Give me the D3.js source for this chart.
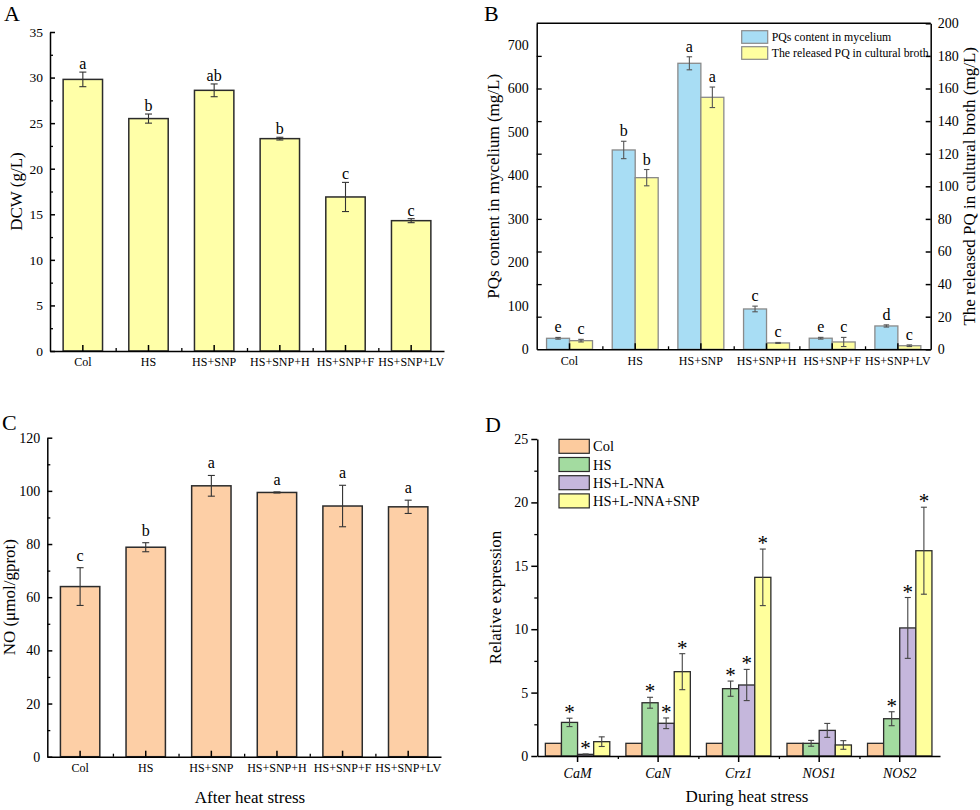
<!DOCTYPE html>
<html><head><meta charset="utf-8">
<script src="https://cdn.jsdelivr.net/npm/d3@7"></script>
<style>body{margin:0;background:#fff} svg{display:block}</style>
</head><body><svg id="c" width="980" height="810"></svg>
<script>
// ---------- DATA ----------
const treatments = ["Col","HS","HS+SNP","HS+SNP+H","HS+SNP+F","HS+SNP+LV"];
const dcwValues = [29.8, 25.5, 28.6, 23.3, 16.9, 14.3];
const dcwErrors = [0.8, 0.5, 0.7, 0.15, 1.6, 0.22];
const dcwLetters = ["a","b","ab","b","c","c"];
const pqMycelium = [25.3, 458.6, 658, 92.8, 25.5, 53.7];
const pqMyceliumErr = [2, 20, 15, 6.5, 2, 2.5];
const pqMyceliumLetters = ["e","b","a","c","e","d"];
const pqBroth = [5.3, 105.3, 154.6, 3.9, 4.5, 2.2];
const pqBrothErr = [0.8, 5, 6.3, 0.3, 2.8, 0.5];
const pqBrothLetters = ["c","b","a","c","c","c"];
const noValues = [64.0, 78.8, 101.9, 99.4, 94.3, 94.0];
const noErrors = [7.1, 1.7, 3.9, 0.2, 7.8, 2.5];
const noLetters = ["c","b","a","a","a","a"];
const genes = ["CaM","CaN","Crz1","NOS1","NOS2"];
const groupsD = ["Col","HS","HS+L-NNA","HS+L-NNA+SNP"];
const exprCol = [1, 1, 1, 1, 1];
const exprHS = [2.65, 4.2, 5.31, 1.0, 2.94];
const exprLNNA = [0.13, 2.58, 5.6, 2.02, 10.1];
const exprSNP = [1.13, 6.65, 14.09, 0.87, 16.19];
const errCol = [0, 0, 0, 0, 0];
const errHS = [0.33, 0.43, 0.6, 0.23, 0.55];
const errLNNA = [0.03, 0.42, 1.23, 0.55, 2.4];
const errSNP = [0.38, 1.42, 2.23, 0.34, 3.43];
const sigCol = [false, false, false, false, false];
const sigHS = [true, true, true, false, true];
const sigLNNA = [true, true, true, false, true];
const sigSNP = [false, true, true, false, true];

// ---------- HELPERS ----------
const serif = '"Liberation Serif","Times New Roman",serif';
const svg = d3.select("#c");
svg.append("rect").attr("width",980).attr("height",810).attr("fill","#fff");

function styleAxis(g, fs, sw){
  g.attr("font-family", serif).attr("font-size", fs);
  g.selectAll("path,line").attr("stroke","#000").attr("stroke-width", sw);
  g.selectAll("text").attr("fill","#000");
  return g;
}
function minorAxis(g, axis){ g.call(axis); g.select(".domain").remove(); g.selectAll("line").attr("stroke","#000").attr("stroke-width",1.3); }
function errBar(g, cx, top, bot, cap, color){
  g.append("line").attr("x1",cx).attr("x2",cx).attr("y1",top).attr("y2",bot).attr("stroke",color).attr("stroke-width",1.1);
  g.append("line").attr("x1",cx-cap/2).attr("x2",cx+cap/2).attr("y1",top).attr("y2",top).attr("stroke",color).attr("stroke-width",1.1);
  g.append("line").attr("x1",cx-cap/2).attr("x2",cx+cap/2).attr("y1",bot).attr("y2",bot).attr("stroke",color).attr("stroke-width",1.1);
}
function label(txt, x, y, fs, opts={}){
  const t = svg.append("text").attr("x",x).attr("y",y).attr("font-family",serif).attr("font-size",fs).attr("fill","#000").text(txt);
  if(opts.anchor) t.attr("text-anchor",opts.anchor);
  if(opts.rot) t.attr("transform",`rotate(${opts.rot},${x},${y})`);
  if(opts.italic) t.attr("font-style","italic");
  return t;
}
function boundaryTicks(g, L, R, n, y, size){
  const s = d3.scaleLinear().domain([0,n]).range([L,R]);
  const ax = d3.axisBottom(s).tickValues(d3.range(1,n)).tickSize(size).tickFormat("");
  const gg = g.append("g").attr("transform",`translate(0,${y})`);
  minorAxis(gg, ax);
}

// ---------- PANEL A ----------
{
  const L=50, R=444, T=32, B=351;
  const x = d3.scaleBand().domain(treatments).range([L,R]).paddingInner(0.4).paddingOuter(0.2);
  const y = d3.scaleLinear().domain([0,35]).range([B,T]);
  const g = svg.append("g");
  g.selectAll("rect.bar").data(treatments).join("rect").attr("class","bar")
    .attr("x",d=>x(d)).attr("y",(d,i)=>y(dcwValues[i]))
    .attr("width",x.bandwidth()).attr("height",(d,i)=>B-y(dcwValues[i]))
    .attr("fill","#FFFFA8").attr("stroke","#2b2b2b").attr("stroke-width",1.5);
  treatments.forEach((d,i)=>{
    const cx = x(d)+x.bandwidth()/2;
    const top = y(dcwValues[i]+dcwErrors[i]);
    errBar(g, cx, top, y(dcwValues[i]-dcwErrors[i]), 7, "#333");
    label(dcwLetters[i], cx, top-3, 16, {anchor:"middle"});
  });
  const ya = g.append("g").attr("transform",`translate(${L},0)`)
    .call(d3.axisLeft(y).tickValues(d3.range(0,36,5)).tickSizeInner(-5).tickSizeOuter(0).tickPadding(7));
  styleAxis(ya, 13.5, 1.5);
  minorAxis(g.append("g").attr("transform",`translate(${L},0)`), d3.axisLeft(y).tickValues(d3.range(2.5,35,5)).tickSize(-3).tickFormat(""));
  const xa = g.append("g").attr("transform",`translate(0,${B})`)
    .call(d3.axisBottom(x).tickSizeInner(-6).tickSizeOuter(0).tickPadding(6));
  styleAxis(xa, 12, 1.5);
  boundaryTicks(g, L, R, 6, B, -3);
  label("DCW (g/L)", 22, (T+B)/2, 17, {anchor:"middle", rot:-90});
  label("A", 4, 21, 22);
}

// ---------- PANEL B ----------
{
  const L=536.7, R=930.7, T=23.3, B=349.3;
  const x = d3.scaleBand().domain(treatments).range([L,R]).paddingInner(0.3).paddingOuter(0.15);
  const xi = d3.scaleBand().domain(["m","b"]).range([0,x.bandwidth()]);
  const yL = d3.scaleLinear().domain([0,750]).range([B,T]);
  const yR = d3.scaleLinear().domain([0,200]).range([B,T]);
  const g = svg.append("g");
  const series = [
    {k:"m", vals:pqMycelium, errs:pqMyceliumErr, lets:pqMyceliumLetters, y:yL, fill:"#A8DDF4"},
    {k:"b", vals:pqBroth, errs:pqBrothErr, lets:pqBrothLetters, y:yR, fill:"#FFFFA0"}
  ];
  series.forEach(s=>{
    g.append("g").selectAll("rect").data(treatments).join("rect")
      .attr("x",d=>x(d)+xi(s.k)).attr("y",(d,i)=>s.y(s.vals[i]))
      .attr("width",xi.bandwidth()).attr("height",(d,i)=>B-s.y(s.vals[i]))
      .attr("fill",s.fill).attr("stroke","#8a8a8a").attr("stroke-width",1.3);
  });
  series.forEach(s=>{
    treatments.forEach((d,i)=>{
      const cx = x(d)+xi(s.k)+xi.bandwidth()/2;
      const top = s.y(s.vals[i]+s.errs[i]);
      errBar(g, cx, top, s.y(Math.max(0,s.vals[i]-s.errs[i])), 5.5, "#555");
      label(s.lets[i], cx, top-5, 16, {anchor:"middle"});
    });
  });
  g.append("line").attr("x1",L).attr("x2",R).attr("y1",T).attr("y2",T).attr("stroke","#000").attr("stroke-width",1.5);
  const ylab = g.append("g").attr("transform",`translate(${L},0)`)
    .call(d3.axisLeft(yL).tickValues(d3.range(0,701,100)).tickSize(0).tickPadding(8));
  styleAxis(ylab, 14, 1.5);
  minorAxis(g.append("g").attr("transform",`translate(${L},0)`), d3.axisLeft(yR).tickValues(d3.range(20,181,20)).tickSize(-5).tickFormat(""));
  const yr = g.append("g").attr("transform",`translate(${R},0)`)
    .call(d3.axisRight(yR).tickValues(d3.range(0,201,20)).tickSizeInner(-5).tickSizeOuter(0).tickPadding(7));
  styleAxis(yr, 14, 1.5);
  const xa = g.append("g").attr("transform",`translate(0,${B})`)
    .call(d3.axisBottom(x).tickSizeInner(-6).tickSizeOuter(0).tickPadding(7));
  styleAxis(xa, 12, 1.5);
  boundaryTicks(g, L, R, 6, B, -3);
  const legendNames = ["PQs content in mycelium","The released PQ in cultural broth"];
  legendNames.forEach((n,i)=>{
    const yy = 30.7 + i*16;
    g.append("rect").attr("x",741.7).attr("y",yy).attr("width",26).attr("height",12.6)
      .attr("fill",series[i].fill).attr("stroke","#8a8a8a").attr("stroke-width",1.2);
    label(n, 771.7, yy+10.5, 11.8);
  });
  label("PQs content in mycelium (mg/L)", 499, (T+B)/2, 17, {anchor:"middle", rot:-90});
  label("The released PQ in cultural broth (mg/L)", 975, (T+B)/2, 17, {anchor:"middle", rot:-90});
  label("B", 484, 21, 22);
}

// ---------- PANEL C ----------
{
  const L=47.3, R=441, T=437.7, B=756.7;
  const x = d3.scaleBand().domain(treatments).range([L,R]).paddingInner(0.4).paddingOuter(0.2);
  const y = d3.scaleLinear().domain([0,120]).range([B,T]);
  const g = svg.append("g");
  g.selectAll("rect.bar").data(treatments).join("rect").attr("class","bar")
    .attr("x",d=>x(d)).attr("y",(d,i)=>y(noValues[i]))
    .attr("width",x.bandwidth()).attr("height",(d,i)=>B-y(noValues[i]))
    .attr("fill","#FDCFA6").attr("stroke","#2b2b2b").attr("stroke-width",1.5);
  treatments.forEach((d,i)=>{
    const cx = x(d)+x.bandwidth()/2;
    const top = y(noValues[i]+noErrors[i]);
    errBar(g, cx, top, y(noValues[i]-noErrors[i]), 7, "#333");
    label(noLetters[i], cx, top-7, 16, {anchor:"middle"});
  });
  const ya = g.append("g").attr("transform",`translate(${L},0)`)
    .call(d3.axisLeft(y).tickValues(d3.range(0,121,20)).tickSizeInner(-5).tickSizeOuter(0).tickPadding(7));
  styleAxis(ya, 14, 1.5);
  minorAxis(g.append("g").attr("transform",`translate(${L},0)`), d3.axisLeft(y).tickValues(d3.range(10,120,20)).tickSize(-3).tickFormat(""));
  const xa = g.append("g").attr("transform",`translate(0,${B})`)
    .call(d3.axisBottom(x).tickSizeInner(-6).tickSizeOuter(0).tickPadding(7));
  styleAxis(xa, 12, 1.5);
  boundaryTicks(g, L, R, 6, B, -3);
  label("NO (μmol/gprot)", 15, (T+B)/2, 17, {anchor:"middle", rot:-90});
  label("After heat stress", 250, 803, 17, {anchor:"middle"});
  label("C", 2, 430, 22);
}

// ---------- PANEL D ----------
{
  const L=537.3, R=940, T=439, B=756;
  const x = d3.scaleBand().domain(genes).range([L,R]).paddingInner(0.2).paddingOuter(0.1);
  const xi = d3.scaleBand().domain(groupsD).range([0,x.bandwidth()]);
  const y = d3.scaleLinear().domain([0,25]).range([B,T]);
  const g = svg.append("g");
  const series = [
    {k:groupsD[0], vals:exprCol, errs:errCol, sig:sigCol, fill:"#FCCB9E"},
    {k:groupsD[1], vals:exprHS, errs:errHS, sig:sigHS, fill:"#A3DBA0"},
    {k:groupsD[2], vals:exprLNNA, errs:errLNNA, sig:sigLNNA, fill:"#C5B7DC"},
    {k:groupsD[3], vals:exprSNP, errs:errSNP, sig:sigSNP, fill:"#FFFF9C"}
  ];
  series.forEach(s=>{
    g.append("g").selectAll("rect").data(genes).join("rect")
      .attr("x",d=>x(d)+xi(s.k)).attr("y",(d,i)=>y(s.vals[i]))
      .attr("width",xi.bandwidth()).attr("height",(d,i)=>B-y(s.vals[i]))
      .attr("fill",s.fill).attr("stroke","#2b2b2b").attr("stroke-width",1.3);
  });
  series.forEach(s=>{
    genes.forEach((d,i)=>{
      const cx = x(d)+xi(s.k)+xi.bandwidth()/2;
      const top = y(s.vals[i]+s.errs[i]);
      if(s.errs[i]>0) errBar(g, cx, top, y(Math.max(0,s.vals[i]-s.errs[i])), 6, "#444");
      if(s.sig[i]) label("*", cx, top+1, 21, {anchor:"middle"});
    });
  });
  const ya = g.append("g").attr("transform",`translate(${L},0)`)
    .call(d3.axisLeft(y).tickValues(d3.range(0,26,5)).tickSizeInner(6).tickSizeOuter(0).tickPadding(3));
  styleAxis(ya, 14, 1.5);
  minorAxis(g.append("g").attr("transform",`translate(${L},0)`), d3.axisLeft(y).tickValues(d3.range(2.5,25,5)).tickSize(3).tickFormat(""));
  const xa = g.append("g").attr("transform",`translate(0,${B})`)
    .call(d3.axisBottom(x).tickSizeInner(6).tickSizeOuter(0).tickPadding(6));
  styleAxis(xa, 14, 1.5);
  xa.selectAll("text").attr("font-style","italic");
  boundaryTicks(g, L, R, 5, B, 3);
  groupsD.forEach((n,i)=>{
    const yy = 439.3 + i*18.2;
    g.append("rect").attr("x",559).attr("y",yy).attr("width",30.3).attr("height",14)
      .attr("fill",series[i].fill).attr("stroke","#2b2b2b").attr("stroke-width",1.2);
    label(n, 593, yy+12, 14.5);
  });
  label("Relative expression", 501, (T+B)/2, 17, {anchor:"middle", rot:-90});
  label("During heat stress", 747, 802, 17, {anchor:"middle"});
  label("D", 485, 432, 22);
}
</script></body></html>
